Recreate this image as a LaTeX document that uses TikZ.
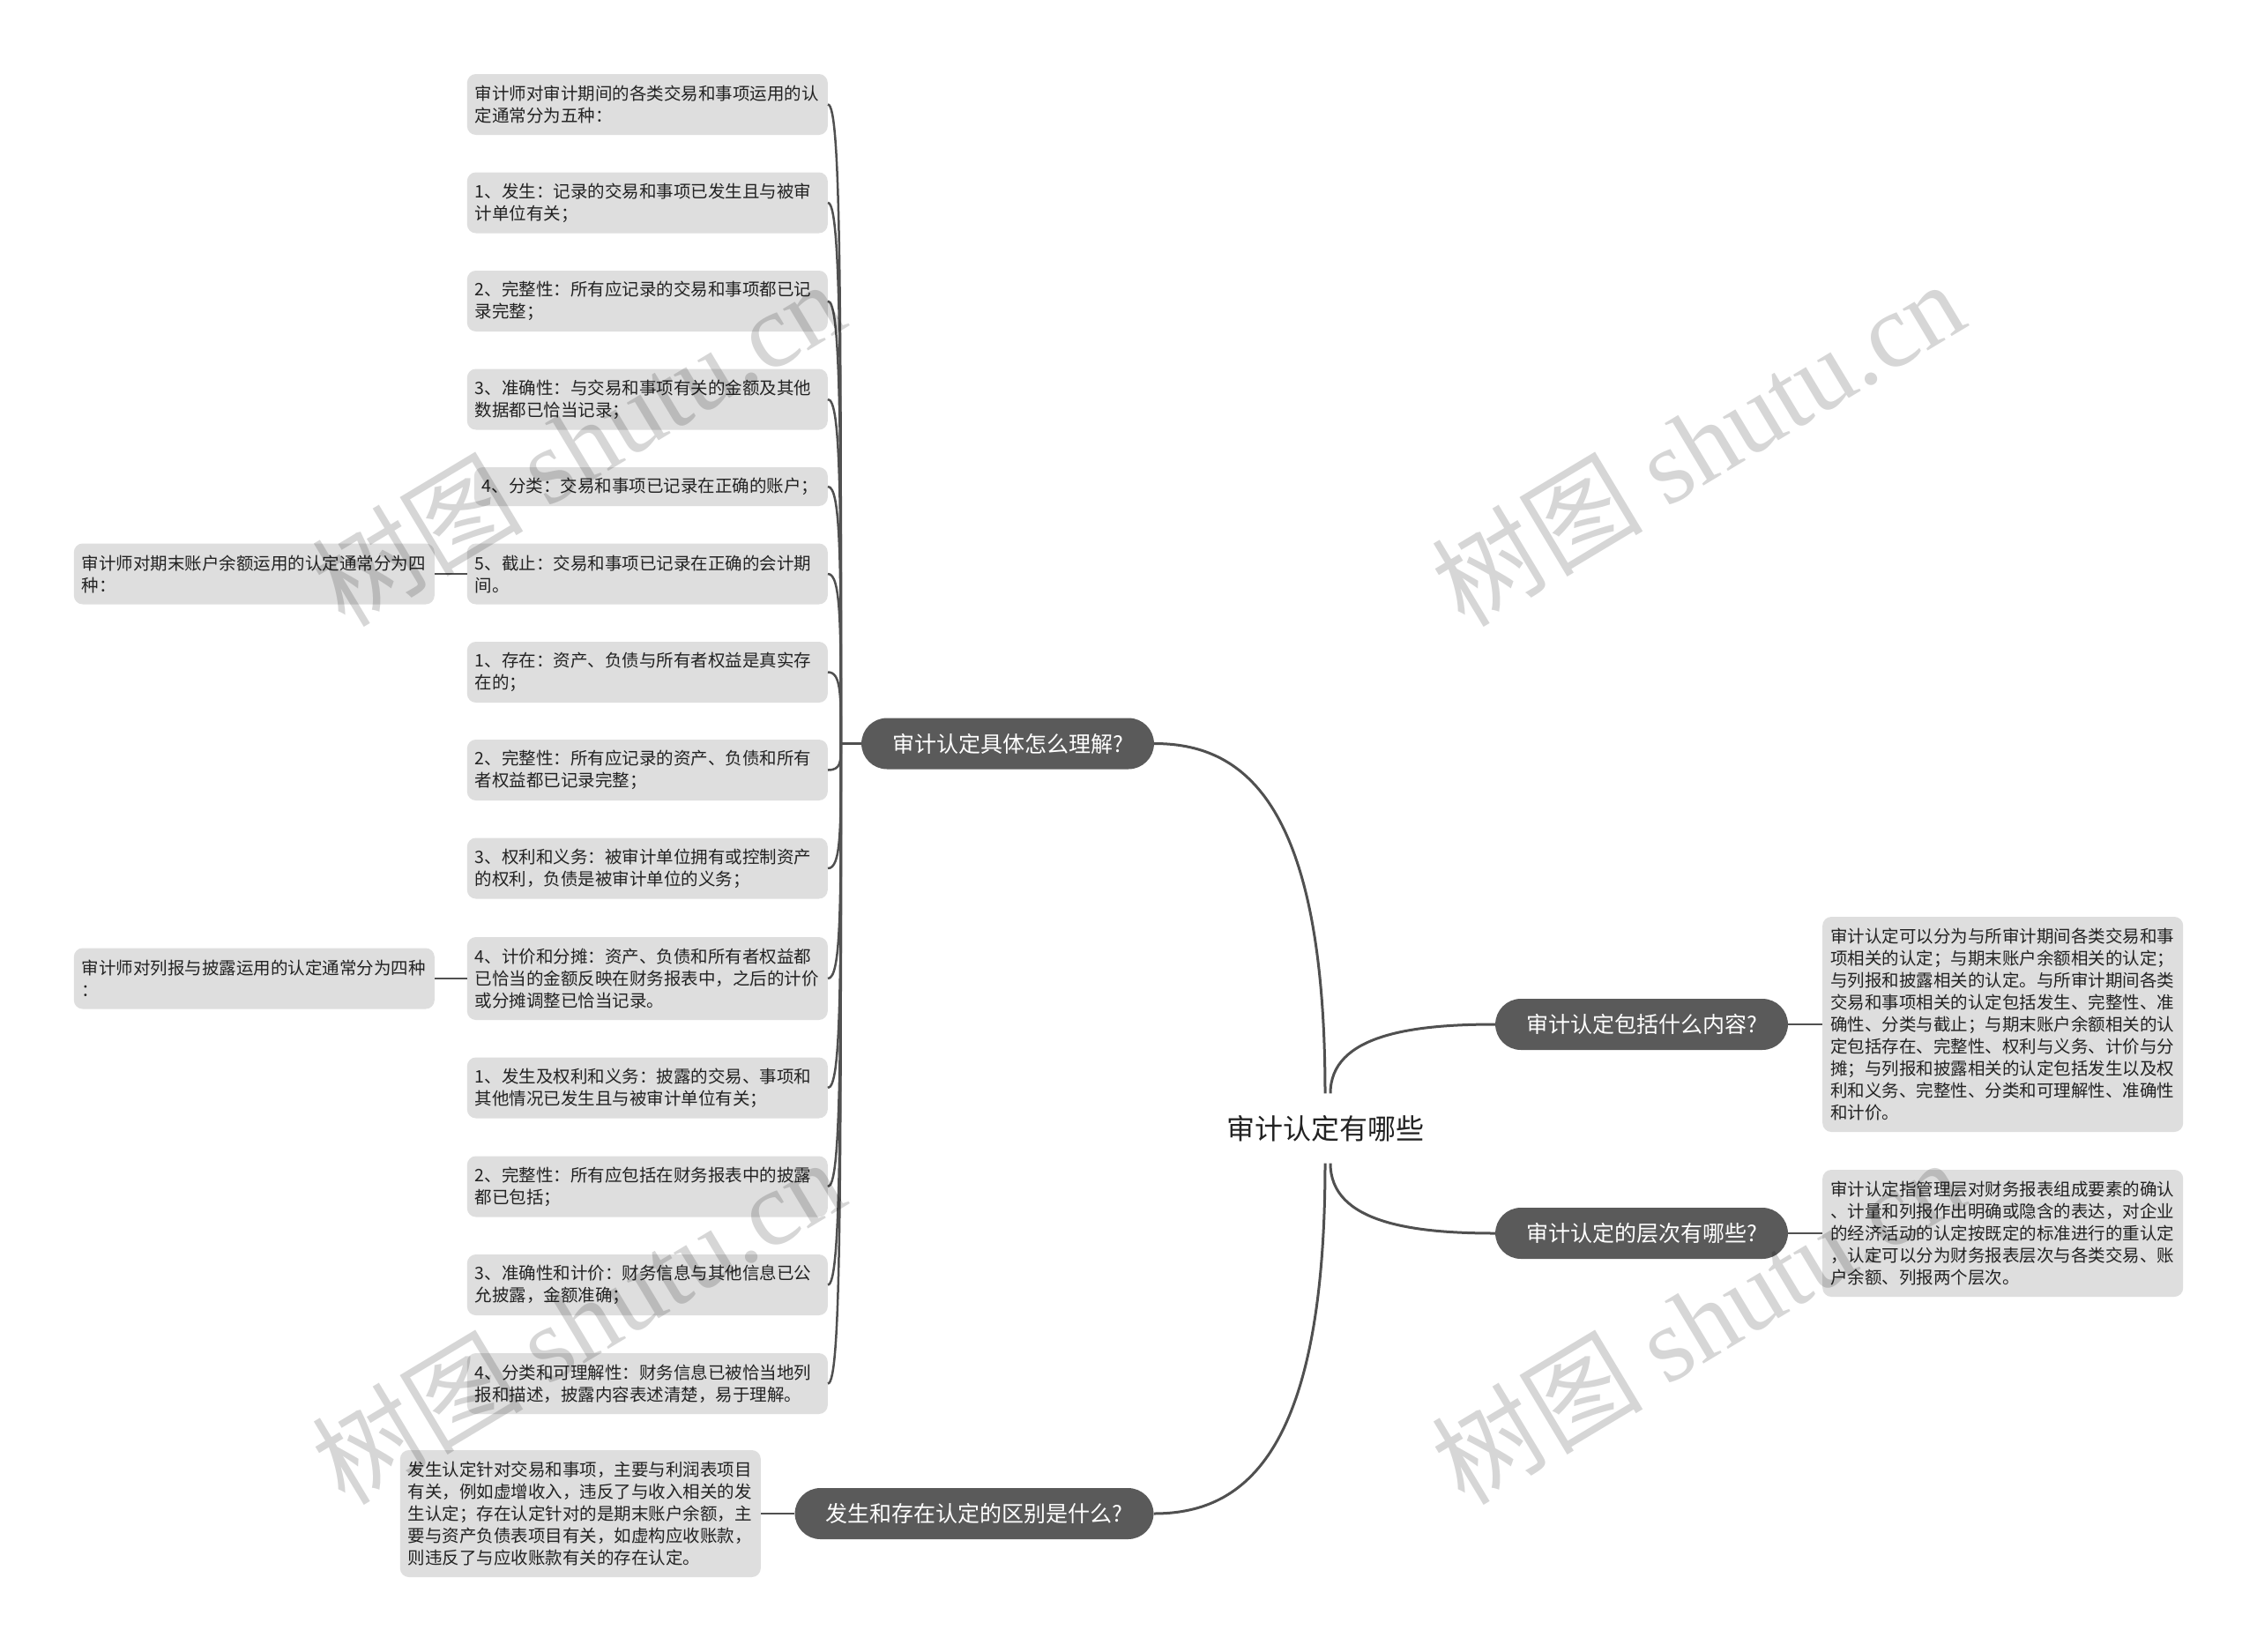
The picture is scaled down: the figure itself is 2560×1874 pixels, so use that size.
\documentclass[tikz,border=0pt]{standalone}
\usepackage{fontspec}
\setmainfont{Noto Sans CJK SC}
\newfontfamily\wmlatin{Liberation Serif}
\usetikzlibrary{calc}
\definecolor{boxgray}{HTML}{DEDEDE}
\definecolor{pillgray}{HTML}{5A5A5A}
\definecolor{linegray}{HTML}{505050}
\definecolor{txt}{HTML}{222222}
\begin{document}
\begin{tikzpicture}[x=1pt,y=-1pt,
  tbox/.style={fill=boxgray, rounded corners=10, text width=391, inner xsep=9, inner ysep=0, align=left, text=txt, font=\fontsize{19.5}{25}\selectfont},
  nA/.style={minimum height=44},
  nB/.style={minimum height=69},
  nC/.style={minimum height=94},
  nE/.style={minimum height=144},
  nI/.style={minimum height=244},
  pill/.style={fill=pillgray, text=white, rounded corners=29, minimum height=58, inner xsep=35, inner ysep=0, font=\fontsize{25}{30}\selectfont},
  rootnode/.style={minimum height=79, inner sep=0, font=\fontsize{32}{38}\selectfont, text=txt},
  mainline/.style={draw=linegray, line width=3},
  subline/.style={draw=linegray, line width=2.5},
  wm/.style={rotate=31, text=black, text opacity=0.16, font=\fontsize{120}{120}\selectfont, inner sep=0}
]
\useasboundingbox[fill=white] (0,0) rectangle (2560,1874);

% root and branches
\node[rootnode] (root) at (1503,1280) {审计认定有哪些};
\node[pill] (b1) at (1143,843.5) {审计认定具体怎么理解?};
\node[pill] (b2) at (1862,1162) {审计认定包括什么内容?};
\node[pill] (b3) at (1862,1399) {审计认定的层次有哪些?};
\node[pill] (b4) at (1105,1717) {发生和存在认定的区别是什么?};

% left column under b1
\node[tbox,nB,anchor=east] (a0) at (939,118.5) {审计师对审计期间的各类交易和事项运用的认\\定通常分为五种：};
\node[tbox,nB,anchor=east] (a1) at (939,230) {1、发生：记录的交易和事项已发生且与被审\\计单位有关；};
\node[tbox,nB,anchor=east] (a2) at (939,341.5) {2、完整性：所有应记录的交易和事项都已记\\录完整；};
\node[tbox,nB,anchor=east] (a3) at (939,453) {3、准确性：与交易和事项有关的金额及其他\\数据都已恰当记录；};
\node[tbox,nA,anchor=east,text width=383] (a4) at (939,552) {4、分类：交易和事项已记录在正确的账户；};
\node[tbox,nB,anchor=east] (a5) at (939,651) {5、截止：交易和事项已记录在正确的会计期\\间。};
\node[tbox,nB,anchor=east] (c1) at (939,762.5) {1、存在：资产、负债与所有者权益是真实存\\在的；};
\node[tbox,nB,anchor=east] (c2) at (939,873.5) {2、完整性：所有应记录的资产、负债和所有\\者权益都已记录完整；};
\node[tbox,nB,anchor=east] (c3) at (939,985) {3、权利和义务：被审计单位拥有或控制资产\\的权利，负债是被审计单位的义务；};
\node[tbox,nC,anchor=east] (c4) at (939,1110) {4、计价和分摊：资产、负债和所有者权益都\\已恰当的金额反映在财务报表中，之后的计价\\或分摊调整已恰当记录。};
\node[tbox,nB,anchor=east] (d1) at (939,1234) {1、发生及权利和义务：披露的交易、事项和\\其他情况已发生且与被审计单位有关；};
\node[tbox,nB,anchor=east] (d2) at (939,1346) {2、完整性：所有应包括在财务报表中的披露\\都已包括；};
\node[tbox,nB,anchor=east] (d3) at (939,1457.5) {3、准确性和计价：财务信息与其他信息已公\\允披露，金额准确；};
\node[tbox,nB,anchor=east] (d4) at (939,1569.5) {4、分类和可理解性：财务信息已被恰当地列\\报和描述，披露内容表述清楚，易于理解。};

% far left
\node[tbox,nB,anchor=east] (l1) at (493,651) {审计师对期末账户余额运用的认定通常分为四\\种：};
\node[tbox,nB,anchor=east] (l2) at (493,1110) {审计师对列报与披露运用的认定通常分为四种\\：};

% bottom left
\node[tbox,nE,anchor=east] (e1) at (863,1717) {发生认定针对交易和事项，主要与利润表项目\\有关，例如虚增收入，违反了与收入相关的发\\生认定；存在认定针对的是期末账户余额，主\\要与资产负债表项目有关，如虚构应收账款，\\则违反了与应收账款有关的存在认定。};

% right
\node[tbox,nI,anchor=west] (r1) at (2067,1162) {审计认定可以分为与所审计期间各类交易和事\\项相关的认定；与期末账户余额相关的认定；\\与列报和披露相关的认定。与所审计期间各类\\交易和事项相关的认定包括发生、完整性、准\\确性、分类与截止；与期末账户余额相关的认\\定包括存在、完整性、权利与义务、计价与分\\摊；与列报和披露相关的认定包括发生以及权\\利和义务、完整性、分类和可理解性、准确性\\和计价。};
\node[tbox,nE,anchor=west] (r2) at (2067,1399) {审计认定指管理层对财务报表组成要素的确认\\、计量和列报作出明确或隐含的表达，对企业\\的经济活动的认定按既定的标准进行的重认定\\，认定可以分为财务报表层次与各类交易、账\\户余额、列报两个层次。};

% main curves
\coordinate (rn) at ([xshift=6]root.north);
\coordinate (rs) at ([xshift=6]root.south);
\draw[mainline] (root.north) .. controls ($(root.north)!0.85!(root.north |- b1.east)$) and ($(b1.east)!0.5!(b1.east -| root.north)$) .. (b1.east);
\draw[mainline] (rn) .. controls ($(rn)!0.85!(rn |- b2.west)$) and ($(b2.west)!0.5!(b2.west -| rn)$) .. (b2.west);
\draw[mainline] (rs) .. controls ($(rs)!0.85!(rs |- b3.west)$) and ($(b3.west)!0.5!(b3.west -| rs)$) .. (b3.west);
\draw[mainline] (root.south) .. controls ($(root.south)!0.85!(root.south |- b4.east)$) and ($(b4.east)!0.5!(b4.east -| root.south)$) .. (b4.east);

% b1 children
\coordinate (J) at ([xshift=-23]b1.west);
\draw[mainline] (J) -- (b1.west);
\foreach \c in {a0,a1,a2,a3,a4,a5,c1,c2,c3,c4,d1,d2,d3,d4}{
  \draw[subline] (\c.east) .. controls ($(\c.east -| J)$) and ($(\c.east -| J)!0.3!(J)$) .. (J);
}
\draw[subline] (l1.east) -- (a5.west);
\draw[subline] (l2.east) -- (c4.west);
\draw[subline] (e1.east) -- (b4.west);
\draw[subline] (b2.east) -- (r1.west);
\draw[subline] (b3.east) -- (r2.west);

% watermarks
\node[wm] (w1) at (655,502) {树图 {\wmlatin shutu.cn}};
\node[wm] (w2) at (1925,502) {树图 {\wmlatin shutu.cn}};
\node[wm] (w3) at (655,1498) {树图 {\wmlatin shutu.cn}};
\node[wm] (w4) at (1925,1498) {树图 {\wmlatin shutu.cn}};
\end{tikzpicture}
\end{document}
